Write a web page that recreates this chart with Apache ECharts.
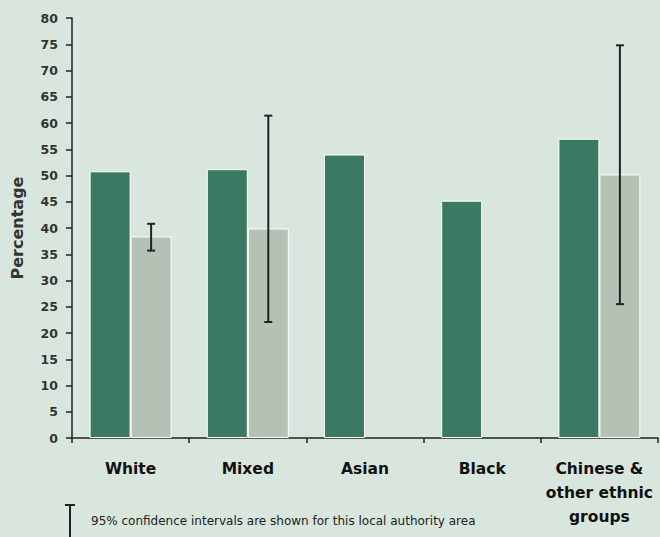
<!DOCTYPE html>
<html>
<head>
<meta charset="utf-8">
<script src="https://cdn.jsdelivr.net/npm/echarts@6/dist/echarts.min.js"></script>
<style>
  html, body { margin: 0; padding: 0; background: #d9e6dd; }
  #chart { width: 660px; height: 537px; }
</style>
</head>
<body>
<div id="chart"></div>
<script>
// ---- data ----
const categories = ['White', 'Mixed', 'Asian', 'Black', 'Chinese &\nother ethnic\ngroups'];
const comparisonValues = [50.8, 51.2, 54.0, 45.2, 57.0];   // dark green bars
const localValues = [38.4, 39.9, null, null, 50.2];        // light grey bars
const ciLower = [35.7, 22.1, null, null, 25.5];
const ciUpper = [40.8, 61.4, null, null, 74.8];
const yTicks = [0, 5, 10, 15, 20, 25, 30, 35, 40, 45, 50, 55, 60, 65, 70, 75, 80];
const noteText = '95% confidence intervals are shown for this local authority area';

const FONT = '"DejaVu Sans", "Liberation Sans", Arial, sans-serif';
const BAR_W = 41;

const errData = [];
categories.forEach((c, i) => {
  if (ciLower[i] != null && ciUpper[i] != null) errData.push([i, ciLower[i], ciUpper[i]]);
});

const chart = echarts.init(document.getElementById('chart'), null, { renderer: 'svg' });
chart.setOption({
  backgroundColor: '#d9e6dd',
  animation: false,
  grid: { left: 72, right: 2, top: 18, bottom: 99 },
  xAxis: {
    type: 'category',
    data: categories,
    axisLine: { lineStyle: { color: '#222', width: 1.5 } },
    axisTick: { show: true, length: 5, lineStyle: { color: '#222', width: 1.5 } },
    axisLabel: {
      color: '#111', fontFamily: FONT, fontSize: 15.5, fontWeight: 'bold',
      margin: 19, lineHeight: 24, interval: 0
    }
  },
  yAxis: {
    type: 'value',
    min: yTicks[0], max: yTicks[yTicks.length - 1], interval: 5,
    name: 'Percentage',
    nameLocation: 'middle',
    nameGap: 47,
    nameTextStyle: { color: '#333', fontFamily: FONT, fontSize: 16, fontWeight: 'bold' },
    splitLine: { show: false },
    axisLine: { show: true, lineStyle: { color: '#222', width: 1.5 } },
    axisTick: { show: true, length: 6, lineStyle: { color: '#222', width: 1.5 } },
    axisLabel: { color: '#333', fontFamily: FONT, fontSize: 12.5, fontWeight: 'bold', margin: 14 }
  },
  series: [
    {
      type: 'bar', name: 'Comparison',
      data: comparisonValues,
      barWidth: BAR_W, barGap: '0%',
      itemStyle: { color: '#3b7a62', borderColor: '#ffffff', borderWidth: 1 }
    },
    {
      type: 'bar', name: 'Local authority',
      data: localValues,
      barWidth: BAR_W, barGap: '0%',
      itemStyle: { color: '#b3c2b5', borderColor: '#ffffff', borderWidth: 1 }
    },
    {
      type: 'custom', name: 'CI',
      data: errData,
      z: 10,
      renderItem: function (params, api) {
        const lo = api.coord([api.value(0), api.value(1)]);
        const hi = api.coord([api.value(0), api.value(2)]);
        const x = lo[0] + BAR_W / 2;
        const cap = 4;
        const style = { stroke: '#222', lineWidth: 2 };
        return {
          type: 'group',
          children: [
            { type: 'line', shape: { x1: x, y1: lo[1], x2: x, y2: hi[1] }, style: style },
            { type: 'line', shape: { x1: x - cap, y1: lo[1], x2: x + cap, y2: lo[1] }, style: style },
            { type: 'line', shape: { x1: x - cap, y1: hi[1], x2: x + cap, y2: hi[1] }, style: style }
          ]
        };
      }
    }
  ],
  graphic: [
    { type: 'line', shape: { x1: 70, y1: 505, x2: 70, y2: 537 }, style: { stroke: '#222', lineWidth: 2 } },
    { type: 'line', shape: { x1: 65, y1: 505, x2: 75, y2: 505 }, style: { stroke: '#222', lineWidth: 2 } },
    { type: 'text', left: 91, top: 515, style: { text: noteText, fill: '#222', font: '12px ' + FONT } }
  ]
});
</script>
</body>
</html>
